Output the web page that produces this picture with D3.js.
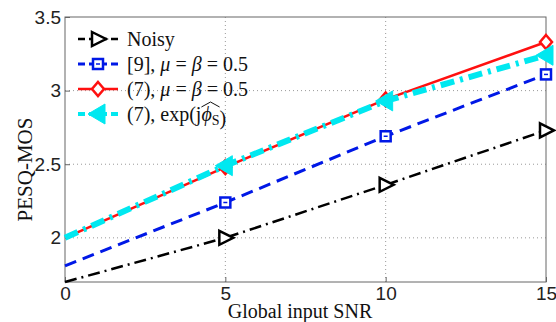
<!DOCTYPE html>
<meta charset="utf-8">
<style>
body, html { margin: 0; padding: 0; background: #fff; overflow: hidden; }
.tick text { font-family: "Liberation Sans", Arial, sans-serif; font-size: 19px; fill: #222; }
.lab { font-family: "Liberation Serif", "Times New Roman", serif; font-size: 21px; fill: #111; }
.leg { font-family: "Liberation Serif", "Times New Roman", serif; font-size: 20px; fill: #111; }
</style>
<svg width="556" height="322"></svg>
<script src="https://cdn.jsdelivr.net/npm/d3@7"></script>
<script>

var snr = [0, 5, 10, 15];
var noisy = [1.7, 2.0, 2.36, 2.73];
var ref9 = [1.81, 2.24, 2.69, 3.11];
var prop7 = [2.0, 2.48, 2.94, 3.33];
var prop7phase = [2.0, 2.49, 2.93, 3.24];
var xTicks = [0, 5, 10, 15];
var yTicks = [2, 2.5, 3, 3.5];

var margin = {left: 65, right: 10, top: 17, bottom: 40};
var width = 556 - margin.left - margin.right,
    height = 322 - margin.top - margin.bottom;

var svg = d3.select("svg");
var g = svg.append("g").attr("transform", "translate(" + margin.left + "," + margin.top + ")");

var x = d3.scaleLinear().domain([0, 15]).range([0, width]);
var y = d3.scaleLinear().domain([1.7, 3.5]).range([height, 0]);

// grid
g.selectAll(".vg").data([5, 10]).enter().append("line")
    .attr("x1", x).attr("x2", x).attr("y1", 0).attr("y2", height)
    .attr("stroke", "#999").attr("stroke-width", 1).attr("stroke-dasharray", "1,3");
g.selectAll(".hg").data([2, 2.5, 3]).enter().append("line")
    .attr("x1", 0).attr("x2", width).attr("y1", y).attr("y2", y)
    .attr("stroke", "#999").attr("stroke-width", 1).attr("stroke-dasharray", "1,3");

// axes
var fmt = d3.format("~g");
var xAxis = g.append("g").attr("transform", "translate(0," + height + ")")
    .call(d3.axisBottom(x).tickValues(xTicks).tickFormat(fmt).tickSizeInner(-5).tickSizeOuter(0).tickPadding(5));
var yAxis = g.append("g")
    .call(d3.axisLeft(y).tickValues(yTicks).tickFormat(fmt).tickSizeInner(-5).tickSizeOuter(0).tickPadding(4));
[xAxis, yAxis].forEach(function(a) {
  a.select(".domain").remove();
  a.selectAll(".tick line").attr("stroke", "#666");
});
g.append("rect").attr("width", width).attr("height", height)
    .attr("fill", "none").attr("stroke", "#666").attr("stroke-width", 1);

var line = d3.line().x(function(d, i) { return x(snr[i]); }).y(function(d) { return y(d); });

var series = [
  {name: "noisy", vals: noisy, color: "#000", w: 2.5, dash: "12,5,2,5", marker: "triR"},
  {name: "ref9", vals: ref9, color: "#0018e6", w: 3, dash: "12,7", marker: "square"},
  {name: "prop7", vals: prop7, color: "#ff1010", w: 2.5, dash: null, marker: "diamond"},
  {name: "prop7phase", vals: prop7phase, color: "#00e8f0", w: 6, dash: "14,6,3,6", marker: "triL"}
];

function drawMarker(sel, type, color) {
  if (type === "triR") {
    sel.append("path").attr("d", "M-6,-7L8,0L-6,7Z").attr("fill", "#fff")
        .attr("stroke", color).attr("stroke-width", 2.5);
  } else if (type === "square") {
    sel.append("rect").attr("x", -5).attr("y", -5).attr("width", 10).attr("height", 10)
        .attr("fill", "#fff").attr("stroke", color).attr("stroke-width", 2.5);
    sel.append("line").attr("x1", -2).attr("x2", 2).attr("stroke", color).attr("stroke-width", 1.5);
  } else if (type === "diamond") {
    sel.append("path").attr("d", "M0,-7L6,0L0,7L-6,0Z").attr("fill", "#fff")
        .attr("stroke", color).attr("stroke-width", 2.5);
  } else if (type === "triL") {
    sel.append("path").attr("d", "M-10,0L7,-10L7,10Z").attr("fill", color).attr("stroke", color);
  }
}

series.forEach(function(s) {
  g.append("path").datum(s.vals).attr("d", line)
      .attr("fill", "none").attr("stroke", s.color).attr("stroke-width", s.w)
      .attr("stroke-dasharray", s.dash);
  s.vals.forEach(function(v, i) {
    if (i === 0) return;
    var m = g.append("g").attr("transform", "translate(" + x(snr[i]) + "," + y(v) + ")");
    drawMarker(m, s.marker, s.color);
  });
});

// legend
var legend = svg.append("g").attr("transform", "translate(78,39)");
var labels = [
  [{t: "Noisy"}],
  [{t: "[9], "}, {t: "μ", i: 1}, {t: " = "}, {t: "β", i: 1}, {t: " = 0.5"}],
  [{t: "(7), "}, {t: "μ", i: 1}, {t: " = "}, {t: "β", i: 1}, {t: " = 0.5"}],
  [{t: "(7), exp(j"}, {t: "ϕ", i: 1, hat: 1}, {t: "S", sub: 1, hat: 1}, {t: ")"}]
];
series.forEach(function(s, k) {
  var row = legend.append("g").attr("transform", "translate(0," + k * 25 + ")");
  row.append("line").attr("x1", 0).attr("x2", 40).attr("stroke", s.color)
      .attr("stroke-width", Math.min(s.w, 4)).attr("stroke-dasharray", s.name === "prop7" ? null : "7,4");
  var m = row.append("g").attr("transform", "translate(20,0)");
  drawMarker(m, s.marker, s.color);
  var txt = row.append("text").attr("class", "leg").attr("x", 49).attr("y", 7);
  var hatParts = [];
  labels[k].forEach(function(p) {
    var ts = txt.append("tspan").text(p.t);
    if (p.i) ts.attr("font-style", "italic");
    if (p.sub) ts.attr("font-size", "14px").attr("dy", 4);
    if (p.hat) hatParts.push(ts);
  });
  if (hatParts.length) {
    var b1 = hatParts[0].node().getBBox(), b2 = hatParts[hatParts.length - 1].node().getBBox();
    var x0 = b1.x, x1 = b2.x + b2.width, top = b1.y + 1;
    row.append("path")
        .attr("d", "M" + x0 + "," + (top + 3) + " L" + ((x0 + x1) / 2) + "," + (top - 2) + " L" + x1 + "," + (top + 3))
        .attr("fill", "none").attr("stroke", "#111").attr("stroke-width", 1);
  }
});

// axis labels
svg.append("text").attr("class", "lab").attr("text-anchor", "middle")
    .attr("x", 300).attr("y", 318).style("font-size", "20px").text("Global input SNR");
svg.append("text").attr("class", "lab").attr("text-anchor", "middle")
    .attr("transform", "translate(32," + (margin.top + height / 2 + 20) + ") rotate(-90)").text("PESQ-MOS");

</script>
